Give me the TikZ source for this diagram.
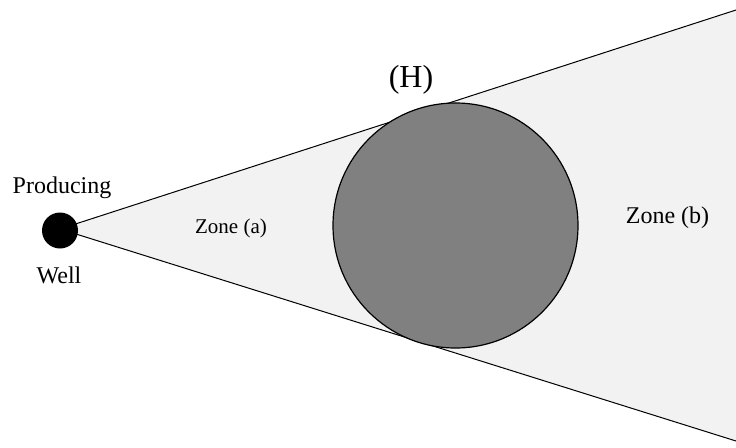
\documentclass[tikz,border=0pt]{standalone}
\usepackage{fontspec}
\setmainfont{Liberation Serif}
\begin{document}
\begin{tikzpicture}[x=1pt,y=-1pt,
  lbl/.style={anchor=base,inner sep=0pt},
  edge/.style={draw=black,line width=1pt}]
\useasboundingbox (0,0) rectangle (736,447);
\coordinate (apex) at (60,229);
\coordinate (ut) at (736,10);
\coordinate (lb) at (736,441);
\fill[fill={rgb,255:red,242;green,242;blue,242}] (apex) -- (ut) -- (lb) -- cycle;
\draw[edge] (apex) -- (ut);
\draw[edge] (apex) -- (lb);
\node[circle,draw=black,line width=1.2pt,fill={rgb,255:red,128;green,128;blue,128},minimum size=245pt,inner sep=0pt] (H) at (455.5,225.5) {};
\node[circle,fill=black,minimum size=36pt,inner sep=0pt] (well) at (60,230.5) {};
\node[lbl,font=\fontsize{24}{24}\selectfont] (prod) at (62,193) {Producing};
\node[lbl,font=\fontsize{24}{24}\selectfont] (welllbl) at (59,283) {Well};
\node[lbl,font=\fontsize{21}{21}\selectfont] (za) at (231,233) {Zone (a)};
\node[lbl,font=\fontsize{24}{24}\selectfont] (zb) at (667.5,223) {Zone (b)};
\node[lbl,font=\fontsize{32}{32}\selectfont] (hl) at (411,87) {(H)};
\end{tikzpicture}
\end{document}
